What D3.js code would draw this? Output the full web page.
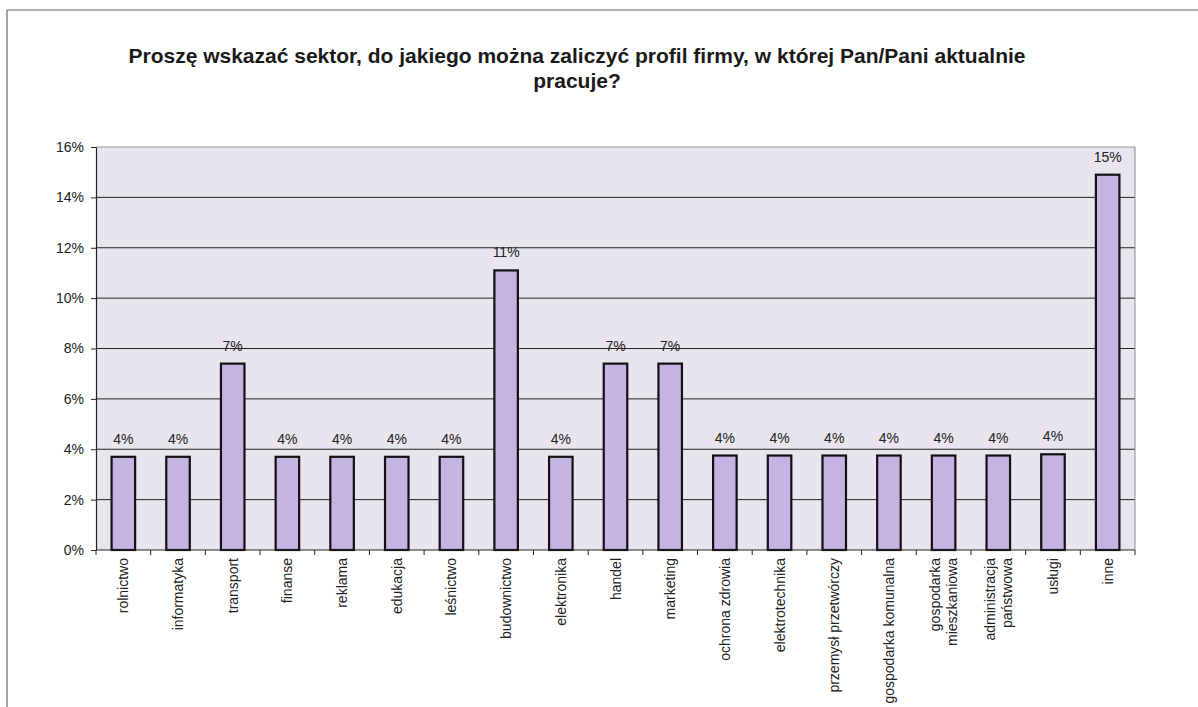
<!DOCTYPE html>
<html><head><meta charset="utf-8">
<script src="https://cdn.jsdelivr.net/npm/d3@7"></script>
<style>body{margin:0;background:#fff;}svg{display:block;font-family:Arial,"Liberation Sans",sans-serif;}</style>
</head><body>
<svg id="c" width="1198" height="707"></svg>
<script>
const categories = ["rolnictwo","informatyka","transport","finanse","reklama","edukacja","leśnictwo","budownictwo","elektronika","handel","marketing","ochrona zdrowia","elektrotechnika","przemysł przetwórczy","gospodarka komunalna","gospodarka\nmieszkaniowa","administracja\npaństwowa","usługi","inne"];
const values = [3.7,3.7,7.4,3.7,3.7,3.7,3.7,11.1,3.7,7.4,7.4,3.75,3.75,3.75,3.75,3.75,3.75,3.8,14.9];
const valueLabels = ["4%","4%","7%","4%","4%","4%","4%","11%","4%","7%","7%","4%","4%","4%","4%","4%","4%","4%","15%"];
const yTicks = [0,2,4,6,8,10,12,14,16];
const titleLines = ["Proszę wskazać sektor, do jakiego można zaliczyć profil firmy, w której Pan/Pani aktualnie","pracuje?"];

const svg = d3.select("#c");
// outer frame
svg.append("line").attr("x1",7).attr("y1",10).attr("x2",1198).attr("y2",10).attr("stroke","#666").attr("stroke-width",1.2);
svg.append("line").attr("x1",7).attr("y1",10).attr("x2",7).attr("y2",707).attr("stroke","#666").attr("stroke-width",1.2);

// title
svg.append("g").selectAll("text").data(titleLines).join("text")
  .attr("x",577).attr("y",(d,i)=>63+i*25).attr("text-anchor","middle")
  .attr("font-size",21).attr("font-weight","bold").attr("fill","#1a1a1a").text(d=>d);

const L=96,R=1135,T=147,B=550;
const x = d3.scaleBand().domain(categories).range([L,R]).paddingInner(0.57).paddingOuter(0.285);
const y = d3.scaleLinear().domain([0,16]).range([B,T]);

svg.append("rect").attr("x",L).attr("y",T).attr("width",R-L).attr("height",B-T).attr("fill","#e8e5ee");

// gridlines
svg.append("g").selectAll("line").data(yTicks.filter(d=>d>0&&d<16)).join("line")
  .attr("x1",L).attr("x2",R).attr("y1",d=>y(d)).attr("y2",d=>y(d)).attr("stroke","#222").attr("stroke-width",1);
// plot top/right border
svg.append("line").attr("x1",L).attr("x2",R).attr("y1",T).attr("y2",T).attr("stroke","#999");
svg.append("line").attr("x1",R).attr("x2",R).attr("y1",T).attr("y2",B).attr("stroke","#888");

// bars
svg.append("g").selectAll("rect").data(values).join("rect")
  .attr("x",(d,i)=>x(categories[i])).attr("width",x.bandwidth())
  .attr("y",d=>y(d)).attr("height",d=>B-y(d))
  .attr("fill","#c4b4e4").attr("stroke","#111").attr("stroke-width",2.2);

// value labels
svg.append("g").selectAll("text").data(values).join("text")
  .attr("x",(d,i)=>x(categories[i])+x.bandwidth()/2).attr("y",d=>y(d)-13)
  .attr("text-anchor","middle").attr("font-size",14).attr("fill","#222")
  .text((d,i)=>valueLabels[i]);

// y axis
const yAxis = d3.axisLeft(y).tickValues(yTicks).tickFormat(d=>d+"%").tickSize(5).tickSizeOuter(0);
const ga = svg.append("g").attr("transform",`translate(${L},0)`).call(yAxis);
ga.select(".domain").attr("stroke","#222").attr("stroke-width",1.2);
ga.selectAll(".tick line").attr("stroke","#222");
ga.selectAll(".tick text").attr("font-size",14).attr("fill","#222").attr("x",-12).attr("font-family","Arial, 'Liberation Sans', sans-serif");

// x axis line + ticks at boundaries
svg.append("line").attr("x1",L).attr("x2",R).attr("y1",B).attr("y2",B).attr("stroke","#222").attr("stroke-width",1.2);
const step = x.step();
const bounds = d3.range(categories.length+1).map(i=>L+i*step);
svg.append("g").selectAll("line").data(bounds).join("line")
  .attr("x1",d=>d).attr("x2",d=>d).attr("y1",B).attr("y2",B+5).attr("stroke","#222");

// category labels
const cl = svg.append("g").selectAll("text").data(categories).join("text")
  .attr("transform",d=>`translate(${x(d)+x.bandwidth()/2},${B+8}) rotate(-90)`)
  .attr("text-anchor","end").attr("font-size",14).attr("fill","#222");
cl.each(function(d){
  const lines=d.split("\n"); const n=lines.length;
  d3.select(this).selectAll("tspan").data(lines).join("tspan")
    .attr("x",0).attr("y",(l,i)=>5+(i-(n-1)/2)*16.5).text(l=>l);
});
</script>
</body></html>
